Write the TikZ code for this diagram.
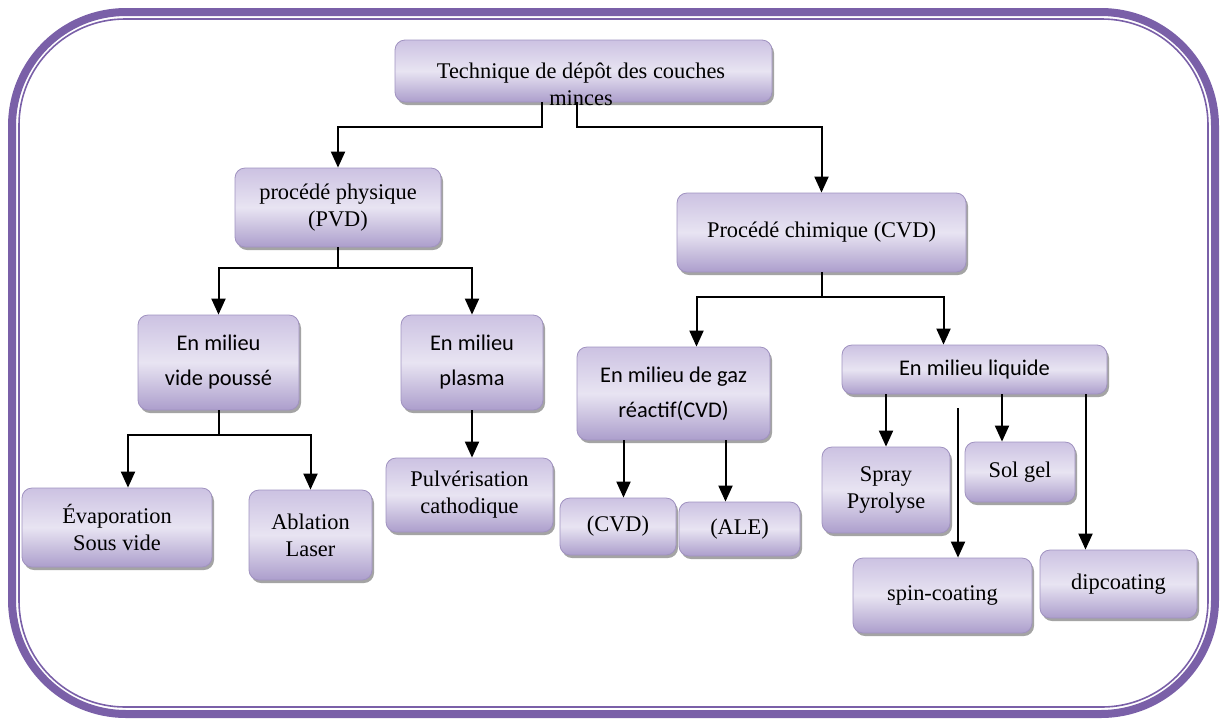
\documentclass[tikz,border=0pt]{standalone}
\usepackage{fontspec}
\setmainfont{Liberation Serif}
\newfontfamily\calib{Carlito}
\usetikzlibrary{arrows.meta, shadows, positioning, calc}

\definecolor{framecol}{RGB}{122,96,168}
\definecolor{boxtop}{RGB}{204,194,226}
\definecolor{boxmid}{RGB}{232,228,242}
\definecolor{boxbot}{RGB}{172,158,204}
\definecolor{boxedge}{RGB}{160,146,192}

\begin{document}
\begin{tikzpicture}
            [x=0.5pt, y=-0.5pt,
            box/.style={rectangle, rounded corners=5pt, align=center, inner sep=0pt,
                draw=boxedge, line width=0.4pt,
                top color=boxtop, bottom color=boxbot, middle color=boxmid,
                drop shadow={shadow xshift=1pt, shadow yshift=-1.5pt, opacity=0.55, fill=black!65}},
            tbox/.style={box, font=\fontsize{11.2}{13.5}\selectfont},
            sbox/.style={box, font=\calib\fontsize{11.2}{17.5}\selectfont},
            link/.style={line width=1pt, black},
            arr/.style={link, -{Triangle[length=8pt,width=7pt]}}]

            \useasboundingbox (0,0) rectangle (1226,724);

            % outer frame
            \draw[framecol, line width=4pt, rounded corners=57pt] (12,12) rectangle (1215,714);
            \draw[framecol, line width=0.8pt, rounded corners=53pt] (19,19) rectangle (1208,707);

            % root
            \node[box, minimum width=188.5pt, minimum height=31pt] (tech) at (583.5,71) {};
            \node[font=\fontsize{11.2}{13.5}\selectfont, align=center, inner sep=0pt] (techtxt) at (581,84)
                {Technique de dépôt des couches\\minces};

            % level 1
            \node[tbox, minimum width=103pt, minimum height=39.5pt] (pvd) at (338,207.5) {procédé physique\\(PVD)};
            \node[tbox, minimum width=144.5pt, minimum height=39.5pt] (cvd) at (821.5,232.5) {Procédé chimique (CVD)};

            % level 2
            \node[sbox, minimum width=80.5pt, minimum height=47.5pt] (vide) at (218.5,362.5) {En milieu\\vide poussé};
            \node[sbox, minimum width=71pt, minimum height=47.5pt] (plasma) at (472,362.5) {En milieu\\plasma};
            \node[sbox, minimum width=96.5pt, minimum height=46.5pt] (gaz) at (673.5,393.5) {En milieu de gaz\\réactif(CVD)};
            \node[sbox, minimum width=132.5pt, minimum height=24.5pt] (liq) at (974.5,369.5) {En milieu liquide};

            % level 3
            \node[tbox, minimum width=95pt, minimum height=39.5pt] (evap) at (117,527.5) {Évaporation\\Sous vide};
            \node[tbox, minimum width=61.5pt, minimum height=45pt] (abl) at (310.5,535) {Ablation\\Laser};
            \node[tbox, minimum width=83.5pt, minimum height=37pt] (pulv) at (469.5,495) {Pulvérisation\\cathodique};
            \node[tbox, minimum width=58pt, minimum height=28.5pt] (cvdb) at (618,526.5) {(CVD)};
            \node[tbox, minimum width=60.5pt, minimum height=27pt] (ale) at (739.5,529) {(ALE)};
            \node[tbox, minimum width=64pt, minimum height=43pt] (spray) at (886,490) {Spray\\Pyrolyse};
            \node[tbox, minimum width=55pt, minimum height=30pt] (sol) at (1020,472) {Sol gel};
            \node[tbox, minimum width=89.5pt, minimum height=37.5pt] (spin) at (942.5,595.5) {spin-coating};
            \node[tbox, minimum width=78.5pt, minimum height=34pt] (dip) at (1118.5,584) {dipcoating};

            \coordinate (spinstart) at (958,408);

            % connectors
            \draw[arr] ([xshift=-21pt]tech.south) -- ++(0,25) -| (pvd);
            \draw[arr] ([xshift=-3.5pt]tech.south) -- ++(0,25) -| (cvd);

            \draw[arr] (pvd.south) -- ++(0,21) -| (vide);
            \draw[arr] (pvd.south) -- ++(0,21) -| (plasma);

            \draw[arr] (cvd.south) -- ++(0,25) -| ([xshift=11.5pt]gaz.north);
            \draw[arr] (cvd.south) -- ++(0,25) -| ([xshift=-15.5pt]liq.north);

            \draw[arr] (vide.south) -- ++(0,25) -| ([xshift=5.5pt]evap.north);
            \draw[arr] (vide.south) -- ++(0,25) -| (abl);
            \draw[arr] (plasma) -- (plasma |- pulv.north);

            \draw[arr] ([xshift=-25pt]gaz.south) -- ([xshift=-25pt]gaz.south |- cvdb.north);
            \draw[arr] ([xshift=26pt]gaz.south) -- ([xshift=26pt]gaz.south |- ale.north);

            \draw[arr] (spray.north |- liq.south) -- (spray.north);
            \draw[arr] (spinstart) -- (spinstart |- spin.north);
            \draw[arr] ([xshift=-9pt]sol.north |- liq.south) -- ([xshift=-9pt]sol.north);
            \draw[arr] ([xshift=-16.5pt]dip.north |- liq.south) -- ([xshift=-16.5pt]dip.north);
        \end{tikzpicture}
\end{document}
